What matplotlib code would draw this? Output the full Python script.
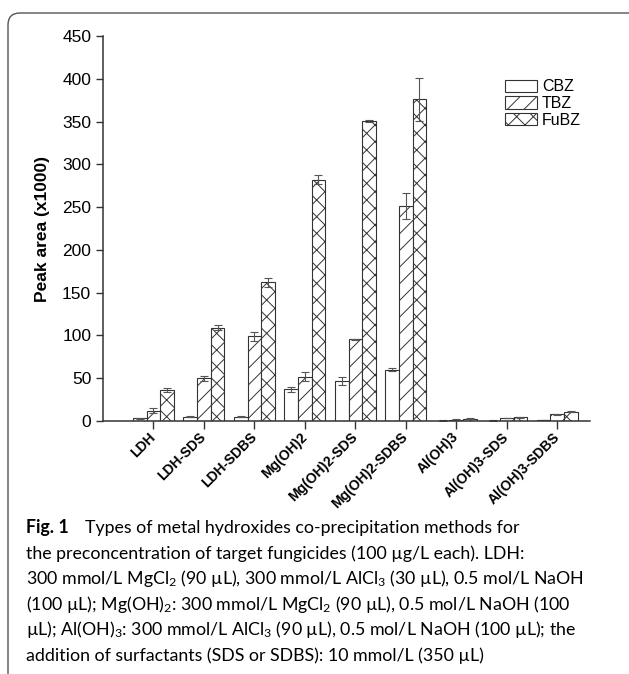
import numpy as np
import matplotlib
matplotlib.use("Agg")
import matplotlib.pyplot as plt
from matplotlib.patches import FancyBboxPatch
from matplotlib.transforms import IdentityTransform

# Data (peak area x1000)
categories = ["LDH", "LDH-SDS", "LDH-SDBS", "Mg(OH)2", "Mg(OH)2-SDS",
              "Mg(OH)2-SDBS", "Al(OH)3", "Al(OH)3-SDS", "Al(OH)3-SDBS"]
cbz = [3, 5, 5, 37, 47, 60, 0.5, 0.5, 1]
cbz_err = [1, 0.5, 0.5, 3, 5, 2, 0.3, 0.3, 0.3]
tbz = [12, 50, 99, 52, 95.5, 251, 1.5, 3.5, 8]
tbz_err = [3, 3, 5, 5, 0.5, 15, 0.5, 0.5, 0.5]
fubz = [36, 109, 162, 282, 351, 376, 2.5, 4.5, 11]
fubz_err = [2, 3, 5, 5, 1, 25, 0.5, 0.5, 0.5]
series_names = ["CBZ", "TBZ", "FuBZ"]

plt.rcParams['font.family'] = ['Liberation Sans', 'DejaVu Sans']
plt.rcParams['hatch.linewidth'] = 0.7
plt.rcParams['hatch.color'] = '#333333'

W, H = 629, 674
fig = plt.figure(figsize=(W / 100, H / 100), dpi=100)

# rounded frame around the figure + caption
frame = FancyBboxPatch((8, -60), 700, H - 13 + 60,
                       boxstyle="round,pad=0,rounding_size=12",
                       transform=IdentityTransform(), fill=False,
                       edgecolor='#555555', linewidth=1.0)
fig.patches.append(frame)

ax = fig.add_axes([103 / W, 1 - 421 / H, (590 - 103) / W, (421 - 36) / H])

x = np.arange(len(categories))
w = 0.27
edge = '#333333'
ekw = dict(ecolor='#555555', elinewidth=0.8, capsize=3, capthick=0.8)

ax.bar(x - w, cbz, w, yerr=cbz_err, color='white', edgecolor=edge,
       linewidth=0.8, label=series_names[0], error_kw=ekw)
ax.bar(x, tbz, w, yerr=tbz_err, color='white', edgecolor=edge,
       linewidth=0.8, hatch='//', label=series_names[1], error_kw=ekw)
ax.bar(x + w, fubz, w, yerr=fubz_err, color='white', edgecolor=edge,
       linewidth=0.8, hatch='xx', label=series_names[2], error_kw=ekw)

ax.set_xlim(-1.0, 8.65)
ax.set_ylim(0, 450)
ax.set_yticks(np.arange(0, 451, 50))
ax.set_xticks(x)
ax.set_xticklabels(categories, rotation=45, ha='right', va='center',
                   rotation_mode='anchor', fontsize=10, fontweight='bold')
ax.tick_params(axis='x', length=6, width=1.0, color='#333333', pad=4)
ax.tick_params(axis='y', length=5, width=1.0, color='#333333', labelsize=12.5)
for s in ['top', 'right']:
    ax.spines[s].set_visible(False)
for s in ['left', 'bottom']:
    ax.spines[s].set_color('#333333')
    ax.spines[s].set_linewidth(1.1)

ax.set_ylabel("Peak area (x1000)", fontsize=12.5, fontweight='bold', labelpad=9)

ax.legend(loc='upper left', bbox_to_anchor=((499 - 103) / (590 - 103), (421 - 73) / 385),
          frameon=False, fontsize=11.5, handlelength=2.0, handleheight=0.8,
          labelspacing=0.1, handletextpad=0.3, borderaxespad=0)

# caption
cap_font = ['Lato', 'DejaVu Sans']
plt.rcParams['mathtext.fontset'] = 'custom'
plt.rcParams['mathtext.rm'] = 'Lato'
plt.rcParams['mathtext.default'] = 'regular'
lines = [
    "the preconcentration of target fungicides (100 µg/L each). LDH:",
    "300 mmol/L MgCl$_2$ (90 µL), 300 mmol/L AlCl$_3$ (30 µL), 0.5 mol/L NaOH",
    "(100 µL); Mg(OH)$_2$: 300 mmol/L MgCl$_2$ (90 µL), 0.5 mol/L NaOH (100",
    "µL); Al(OH)$_3$: 300 mmol/L AlCl$_3$ (90 µL), 0.5 mol/L NaOH (100 µL); the",
    "addition of surfactants (SDS or SDBS): 10 mmol/L (350 µL)",
]
fs = 12.8
y0 = 533
dy = 25.6
fig.text(26 / W, 1 - y0 / H, "Fig. 1", fontsize=fs, fontweight='bold',
         family=cap_font, va='baseline')
fig.text(85 / W, 1 - y0 / H, "Types of metal hydroxides co-precipitation methods for",
         fontsize=fs, family=cap_font, va='baseline')
for i, t in enumerate(lines):
    fig.text(26 / W, 1 - (y0 + (i + 1) * dy) / H, t, fontsize=fs,
             family=cap_font, va='baseline')

fig.savefig("out.png", dpi=100)
